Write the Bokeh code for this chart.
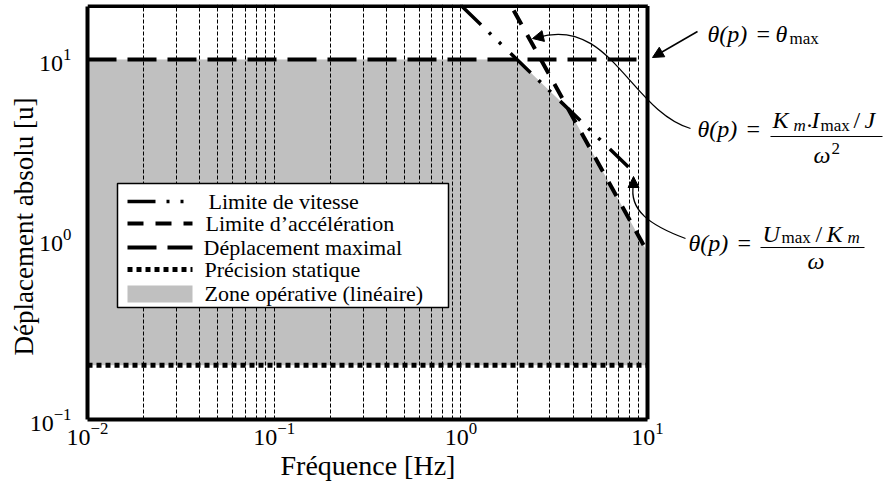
from bokeh.plotting import figure
from bokeh.models import (Range1d, FixedTicker, Arrow, NormalHead,
                          LinearScale, Title)
from bokeh.embed import file_html
from bokeh.resources import INLINE
from bokeh.core.properties import value

# ---------------- data ----------------
freq_span = [0.01, 10.0]
theta_max_val = [10.0, 10.0]          # Déplacement maximal
theta_prec_val = [0.2, 0.2]           # Précision statique
vit_freq = [1.0, 7.9]                 # Limite de vitesse
vit_theta = [20.0, 2.53]
acc_freq = [1.92, 10.0]               # Limite d'accélération
acc_theta = [18.7, 0.85]
zone_freq = [0.01, 2.0, 3.76, 10.0]   # Zone opérative
zone_top = [10.0, 10.0, 5.32, 0.85]
zone_bottom = [0.2, 0.2, 0.2, 0.2]
x_major = [0.01, 0.1, 1.0, 10.0]
x_minor = [m * d for d in (0.01, 0.1, 1.0) for m in range(2, 10)]
y_major = [0.1, 1.0, 10.0]
y_top = 19.8
legend_labels = ["Limite de vitesse", "Limite d\u2019accélération",
                 "Déplacement maximal", "Précision statique",
                 "Zone opérative (linéaire)"]

FONT = "Liberation Serif"
DEC_X = 186.67   # px per decade (x)
DEC_Y = 180.0    # px per decade (y)
LEFT, TOP = 87, 4
FW, FH = 800, 415

p = figure(frame_width=FW, frame_height=FH,
           x_axis_type="log", y_axis_type="log",
           x_range=Range1d(0.01, 10 ** (-2 + FW / DEC_X)),
           y_range=Range1d(0.1, 10 ** (-1 + FH / DEC_Y)),
           min_border_left=LEFT, min_border_right=0, min_border_top=TOP,
           min_border_bottom=68,
           output_backend="svg", toolbar_location=None)
p.outline_line_color = None
p.background_fill_color = "white"
p.border_fill_color = "white"

# page-pixel ranges for decorations / annotations
p.extra_x_ranges = {"px": Range1d(LEFT, LEFT + FW)}
p.extra_y_ranges = {"px": Range1d(TOP + FH, TOP)}
p.extra_x_scales = {"px": LinearScale()}
p.extra_y_scales = {"px": LinearScale()}
PX = dict(x_range_name="px", y_range_name="px")

# ---------------- axes ----------------
xt = FixedTicker(ticks=x_major, minor_ticks=x_minor)
xa = p.xaxis[0]
xa.ticker = xt
xa.bounds = (freq_span[0], freq_span[1])
xa.axis_line_width = 4
xa.axis_line_color = "black"
xa.major_tick_line_color = None
xa.minor_tick_line_color = None
xa.major_label_standoff = -3
xa.major_label_text_font = FONT
xa.major_label_text_font_size = "24px"
xa.major_label_text_color = "black"

ya = p.yaxis[0]
ya.ticker = FixedTicker(ticks=y_major)
ya.bounds = (0.1, y_top)
ya.axis_line_width = 4
ya.axis_line_color = "black"
ya.major_tick_line_color = None
ya.minor_tick_line_color = None
ya.major_label_standoff = 10
ya.major_label_text_font = FONT
ya.major_label_text_font_size = "24px"
ya.major_label_text_color = "black"

p.add_layout(Title(text="Fréquence [Hz]", align="left", offset=193,
                   standoff=0, text_font=FONT, text_font_size="28px",
                   text_font_style="normal", text_color="black"), "below")
p.add_layout(Title(text="Déplacement absolu  [u]", align="left", offset=64,
                   standoff=-24, text_font=FONT, text_font_size="27px",
                   text_font_style="normal", text_color="black"), "left")

p.ygrid.visible = False
p.xgrid.ticker = xt
p.xgrid.bounds = (freq_span[0], freq_span[1])
p.xgrid.grid_line_color = "black"
p.xgrid.grid_line_width = 1
p.xgrid.grid_line_dash = "4 2"
p.xgrid.minor_grid_line_color = "black"
p.xgrid.minor_grid_line_width = 1
p.xgrid.minor_grid_line_dash = "4 2"

# ---------------- data glyphs ----------------
r_zone = p.varea(x=zone_freq, y1=zone_bottom, y2=zone_top, fill_color="#c0c0c0")
r_zone.level = "image"
STY_VIT = dict(line_color="black", line_width=3.5, line_dash="28 11 3 11 3 13")
STY_ACC = dict(line_color="black", line_width=4, line_dash="16 12")
STY_MAX = dict(line_color="black", line_width=4, line_dash="29 11")
STY_PREC = dict(line_color="black", line_width=5, line_dash="5 4")
p.line(vit_freq, vit_theta, **STY_VIT)
p.line(acc_freq, acc_theta, **STY_ACC)
p.line(freq_span, theta_max_val, **STY_MAX)
p.line(freq_span, theta_prec_val, **STY_PREC)

# frame box (top and right sides)
p.segment(x0=[freq_span[1]], y0=[0.1], x1=[freq_span[1]], y1=[y_top],
          line_color="black", line_width=4)
p.segment(x0=[freq_span[0]], y0=[y_top], x1=[freq_span[1]], y1=[y_top],
          line_color="black", line_width=4)

# ---------------- legend (drawn in page pixels) ----------------
p.quad(left=[117], right=[448], top=[183], bottom=[307], fill_color="white",
       line_color="black", line_width=1.5, **PX)
rows = [201, 223, 247, 269, 293]
for yy, sty in zip(rows[:4], [STY_VIT, STY_ACC, STY_MAX, STY_PREC]):
    p.line(x=[127, 192], y=[yy, yy], **sty, **PX)
p.quad(left=[127], right=[192], top=[285], bottom=[302], fill_color="#c0c0c0",
       line_color=None, **PX)
p.text(x=[208, 205, 203, 204, 204], y=rows, text=legend_labels,
       text_font=value(FONT), text_font_size="22px", text_color="black",
       text_baseline="middle", text_align="left", **PX)

# ---------------- formulas (page-pixel coords, vertical centres) ----------------
def txt(x, y, s, size=24, italic=True):
    p.text(x=[x], y=[y], text=[s], text_font=value(FONT),
           text_font_size=f"{size}px",
           text_font_style="italic" if italic else "normal",
           text_baseline="middle", text_align="left", text_color="black",
           **PX)

def bar(x0, x1, y):
    p.segment(x0=[x0], y0=[y], x1=[x1], y1=[y], line_color="black",
              line_width=1.2, **PX)

# theta(p) = theta_max
txt(707, 33, "θ(p)")
txt(756, 33, "=", italic=False)
txt(775, 33, "θ")
txt(789, 38, "max", size=17, italic=False)

# theta(p) = Km.Imax/J / w^2
txt(697, 128, "θ(p)")
txt(746, 128, "=", italic=False)
txt(772, 119, "K")
txt(793, 125, "m", size=17)
txt(806, 119, ".", italic=False)
txt(811, 119, "I")
txt(820, 125, "max", size=17, italic=False)
txt(853, 119, "/", italic=False)
txt(864, 119, "J")
bar(770, 882, 136)
txt(813, 154, "ω")
txt(831, 148, "2", size=17, italic=False)

# theta(p) = Umax/Km / w
txt(688, 242, "θ(p)")
txt(737, 242, "=", italic=False)
txt(762, 233, "U")
txt(781, 237, "max", size=17, italic=False)
txt(815, 233, "/", italic=False)
txt(826, 233, "K")
txt(847, 237, "m", size=17)
bar(760, 864, 247)
txt(807, 260, "ω")

# ---------------- arrows ----------------
head = dict(size=11, fill_color="black", line_color="black")
p.add_layout(Arrow(end=NormalHead(**head), x_start=697, y_start=31,
                   x_end=652, y_end=57, line_width=1.5, line_color="black",
                   **PX))
p.bezier(x0=[690], y0=[128], x1=[537], y1=[37], cx0=[630], cy0=[110],
         cx1=[610], cy1=[15], line_color="black", line_width=1.3, **PX)
p.add_layout(Arrow(end=NormalHead(**head), x_start=545, y_start=35,
                   x_end=532, y_end=38, line_width=0, line_alpha=0, **PX))
p.bezier(x0=[685], y0=[238], x1=[633], y1=[184], cx0=[650], cy0=[225],
         cx1=[628], cy1=[210], line_color="black", line_width=1.3, **PX)
p.add_layout(Arrow(end=NormalHead(**head), x_start=633, y_start=192,
                   x_end=633, y_end=176, line_width=0, line_alpha=0, **PX))

open("out.html", "w").write(file_html(p, INLINE))
